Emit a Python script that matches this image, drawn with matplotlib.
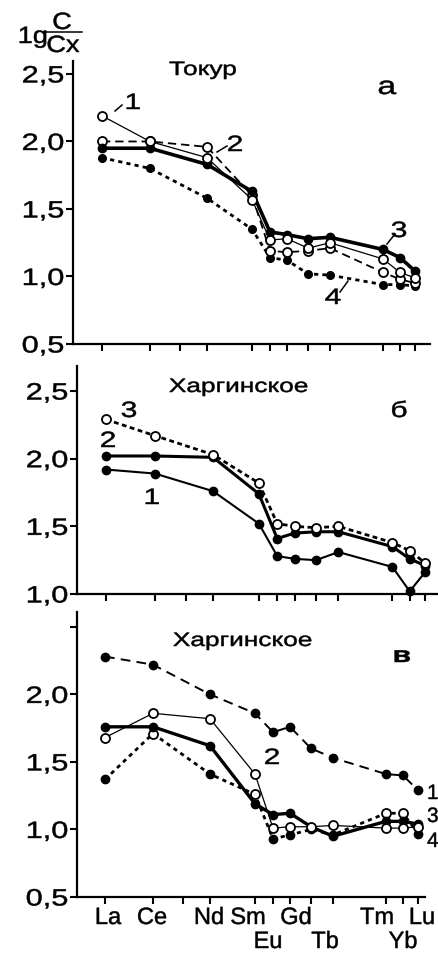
import matplotlib
matplotlib.use('Agg')
import matplotlib.pyplot as plt
import matplotlib.patheffects as pe
from matplotlib.transforms import Affine2D
from matplotlib.lines import Line2D

plt.rcParams['font.family'] = ['Liberation Sans', 'DejaVu Sans']
plt.rcParams['lines.scale_dashes'] = False

W, H = 438, 954

# REE tick positions along the x axis (relative spacing as in the original figure)
ree = ['La', 'Ce', 'Pr', 'Nd', 'Sm', 'Eu', 'Gd', 'Tb', 'Dy', 'Tm', 'Yb', 'Lu']
ree_x = [0, 48, 78, 105, 150, 168, 185, 206, 228, 281, 298, 313]

# x labels: element, row (0 upper, 1 lower), horizontal nudge in px
xlab = ['La', 'Ce', 'Nd', 'Sm', 'Eu', 'Gd', 'Tb', 'Tm', 'Yb', 'Lu']
xlab_row = [0, 0, 0, 0, 1, 0, 1, 0, 1, 0]
xlab_dx = [3, -1, -1, -7, -5, 6, 14, -9, 0, 4]

# elements with analyses
el = ['La', 'Ce', 'Nd', 'Sm', 'Eu', 'Gd', 'Tb', 'Dy', 'Tm', 'Yb', 'Lu']
xe = [ree_x[ree.index(e)] for e in el]

# а - Токур
tok1 = [2.19, 2.00, 1.88, 1.57, 1.27, 1.28, 1.21, 1.25, 1.13, 1.03, 0.99]
tok2 = [2.00, 2.00, 1.96, 1.60, 1.19, 1.18, 1.19, 1.21, 1.03, 0.98, 0.95]
tok3 = [1.95, 1.95, 1.83, 1.63, 1.33, 1.31, 1.28, 1.29, 1.20, 1.14, 1.04]
tok4 = [1.88, 1.80, 1.58, 1.35, 1.14, 1.12, 1.02, 1.01, 0.94, 0.94, 0.93]

# б - Харгинское
hb1 = [1.92, 1.89, 1.76, 1.52, 1.28, 1.26, 1.25, 1.31, 1.20, 1.02, 1.16]
hb2 = [2.02, 2.02, 2.01, 1.74, 1.41, 1.45, 1.46, 1.46, 1.35, 1.26, 1.21]
hb3 = [2.29, 2.17, 2.03, 1.82, 1.52, 1.50, 1.49, 1.50, 1.38, 1.32, 1.23]

# в - Харгинское
hv1 = [2.28, 2.22, 2.00, 1.86, 1.72, 1.76, 1.60, 1.53, 1.41, 1.40, 1.29]
hv2 = [1.68, 1.86, 1.82, 1.41, 1.01, 1.02, 1.02, 1.03, 1.01, 1.01, 1.02]
hv3 = [1.76, 1.76, 1.62, 1.19, 1.11, 1.12, 1.02, 0.95, 1.06, 1.06, 1.04]
hv4 = [1.37, 1.71, 1.41, 1.26, 0.93, 0.96, 1.00, 0.96, 1.12, 1.12, 0.97]
hv4_open = [1, 3, 8, 9]   # points drawn as open circles

SX = 1.35


class HStretch(pe.AbstractPathEffect):
    # widen glyphs horizontally and thicken a bit, the scanned original has heavy wide lettering
    def __init__(self, sx=SX, anchor='center', stroke=0.35):
        super().__init__()
        self.sx = sx
        self.anchor = anchor
        self.stroke = stroke

    def draw_path(self, renderer, gc, tpath, affine, rgbFace=None):
        if len(tpath.vertices) == 0:
            return
        ext = tpath.get_extents()
        x0 = {'left': ext.x0, 'center': (ext.x0 + ext.x1) / 2, 'right': ext.x1}[self.anchor]
        t = Affine2D().translate(-x0, 0).scale(self.sx, 1).translate(x0, 0)
        gc0 = renderer.new_gc()
        gc0.copy_properties(gc)
        gc0.set_linewidth(self.stroke)
        gc0.set_foreground(rgbFace if rgbFace is not None else 'k')
        renderer.draw_path(gc0, tpath, t + affine, rgbFace)
        gc0.restore()


fig = plt.figure(figsize=(W / 100, H / 100), dpi=100)


def panel(l, r, t, b):
    return fig.add_axes([l / W, 1 - b / H, (r - l) / W, (b - t) / H])


def style(ax, yt, ylab):
    ax.set_facecolor('none')
    for s in ['top', 'right']:
        ax.spines[s].set_visible(False)
    for s in ['left', 'bottom']:
        ax.spines[s].set_linewidth(1.6)
    ax.tick_params(direction='out', length=5, width=1.5, labelsize=17, pad=1.5)
    ax.set_yticks(yt, ylab)
    ax.set_xticks(ree_x, [''] * len(ree_x))
    for lab in ax.get_yticklabels():
        lab.set_path_effects([HStretch(1.3, 'right')])


def ftxt(x, y, s, size=14, ha='center', sx=SX, **kw):
    t = fig.text(x / W, 1 - y / H, s, fontsize=size, ha=ha, va='baseline', **kw)
    t.set_path_effects([HStretch(sx, ha)])
    return t


def leader(x1, y1, x2, y2):
    fig.add_artist(Line2D([x1 / W, x2 / W], [1 - y1 / H, 1 - y2 / H], lw=1.1, color='k'))


def open_line(ax, y, lw, ls='-', ms=6.5):
    ax.plot(xe, y, color='k', lw=lw, ls=ls, marker='o', ms=ms, mfc='white',
            mec='k', mew=1.3, clip_on=False)


def fill_line(ax, y, lw, ls='-', ms=6):
    ax.plot(xe, y, color='k', lw=lw, ls=ls, marker='o', ms=ms, mfc='k',
            mec='k', clip_on=False)


# ---- а
ax1 = panel(73, 430, 62, 345)
ax1.set_xlim(-29, 328)
ax1.set_ylim(0.5, 2.596)
style(ax1, [0.5, 1.0, 1.5, 2.0, 2.5], ['0,5', '1,0', '1,5', '2,0', '2,5'])
fill_line(ax1, tok4, 2.0, (0, (3, 3)), ms=5.5)
open_line(ax1, tok2, 1.3, (0, (6, 3.5)))
fill_line(ax1, tok3, 2.6)
open_line(ax1, tok1, 0.9)

# ---- б
ax2 = panel(77, 437, 367, 595)
ax2.set_xlim(-28.5, 324.8)
ax2.set_ylim(1.0, 2.685)
style(ax2, [1.0, 1.5, 2.0, 2.5], ['1,0', '1,5', '2,0', '2,5'])
fill_line(ax2, hb1, 1.5)
fill_line(ax2, hb2, 2.2)
open_line(ax2, hb3, 2.0, (0, (3.5, 2.5)))

# ---- в
ax3 = panel(77, 425, 613, 898)
ax3.set_xlim(-28, 320)
ax3.set_ylim(0.5, 2.61)
style(ax3, [0.5, 1.0, 1.5, 2.0, 2.5], ['0,5', '1,0', '1,5', '2,0', ''])
fill_line(ax3, hv1, 1.4, (0, (7, 4.5)))
ax3.plot(xe, hv4, color='k', lw=2.0, ls=(0, (3, 3)), marker='o', ms=6, mfc='k', mec='k',
         markevery=[i for i in range(len(xe)) if i not in hv4_open], clip_on=False)
ax3.plot(xe, hv4, ls='none', marker='o', ms=6.5, mfc='white', mec='k', mew=1.3,
         markevery=hv4_open, clip_on=False)
fill_line(ax3, hv3, 2.4)
open_line(ax3, hv2, 0.9)

# element names under the bottom axis, two staggered rows
for name, row, dx in zip(xlab, xlab_row, xlab_dx):
    t = ax3.annotate(name, xy=(ree_x[ree.index(name)], 0), xycoords=ax3.get_xaxis_transform(),
                     xytext=(dx / 1.389, -(27 + 24 * row) / 1.389), textcoords='offset points',
                     ha='center', va='baseline', fontsize=17, annotation_clip=False)
    t.set_path_effects([HStretch(1.0, 'center')])

# y axis label  lg C/Cx
ftxt(18, 44, '1g', size=17, ha='left', sx=1.15)
ftxt(62, 30, 'C', size=17, sx=1.15)
ftxt(63, 53, 'Cx', size=17, sx=1.15)
leader(43, 33, 82, 33)

# panel а texts
ftxt(203, 76, 'Токур', size=14)
ftxt(387, 95, 'а', size=18)
ftxt(133, 110, '1', size=16)
ftxt(235, 152, '2', size=16)
ftxt(399, 238, '3', size=16)
ftxt(333, 305, '4', size=16)
leader(115, 112, 122, 106)
leader(217, 153, 227, 147)
leader(387, 245, 395, 235)
leader(340, 293, 348, 282)

# panel б texts
ftxt(239, 393, 'Харгинское', size=14)
ftxt(399, 418, 'б', size=16)
ftxt(129, 418, '3', size=16)
ftxt(108, 448, '2', size=16)
ftxt(152, 505, '1', size=16)

# panel в texts
ftxt(243, 647, 'Харгинское', size=14)
ftxt(402, 663, 'в', size=16, fontweight='bold')
ftxt(272, 765, '2', size=16)
ftxt(427, 800, '1', size=15, ha='left', sx=1.0)
ftxt(427, 823, '3', size=15, ha='left', sx=1.0)
ftxt(427, 848, '4', size=15, ha='left', sx=1.0)

fig.savefig('out.png', dpi=100, facecolor='white')
